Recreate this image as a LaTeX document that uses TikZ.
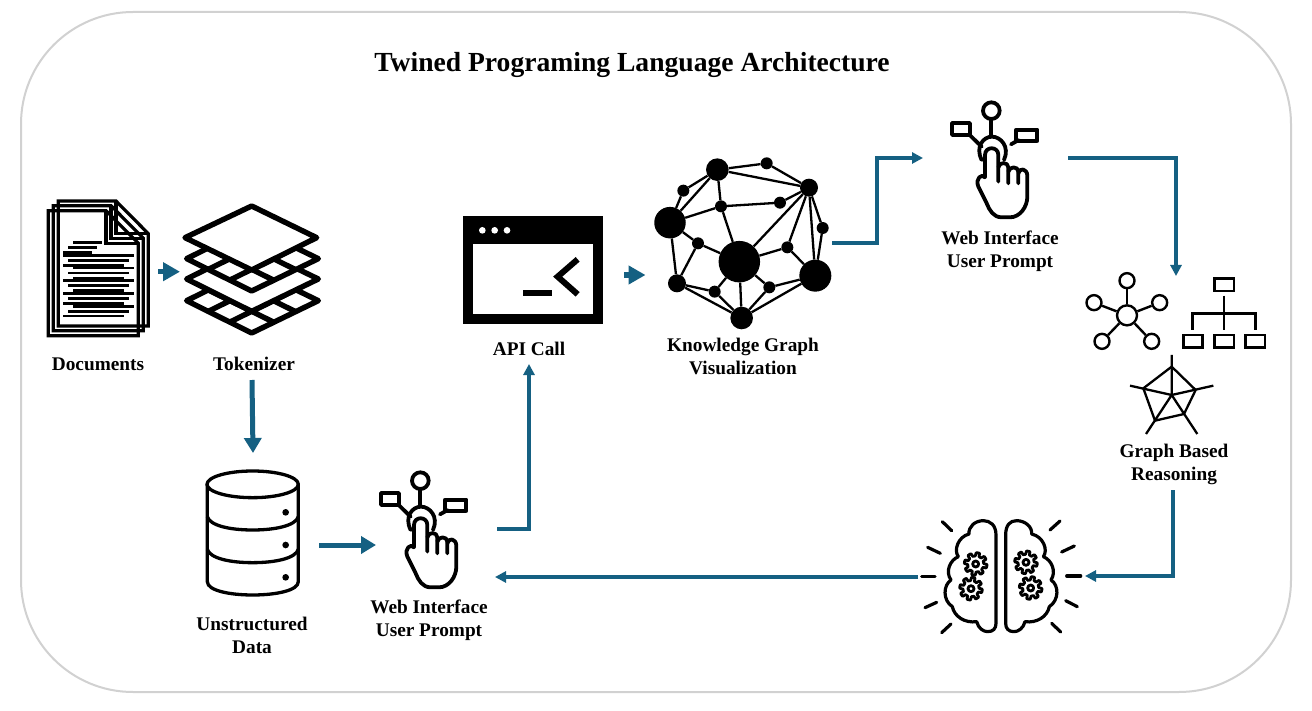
\documentclass[tikz,border=0pt]{standalone}
\usepackage{fontspec}
\setmainfont{Liberation Serif}
\usetikzlibrary{arrows.meta}
\definecolor{flow}{HTML}{156082}
\tikzset{
  zoomed/.style 2 args={shift={(#1,#2)},x=0.33333pt,y=-0.33333pt},
  lbl/.style={font=\fontsize{19.3}{23}\selectfont\bfseries,align=center,text=black,inner sep=0},
  flowline/.style={draw=flow,line width=#1,line join=miter},
  kgdot/.style={circle,fill=black,inner sep=0,minimum size=#1},
  ink/.style={draw=black,line width=#1,line cap=round,line join=round},
  tipS/.style={-{Triangle[length=11pt,width=11pt]}},
  tipM/.style={-{Triangle[length=15pt,width=17pt]}},
  tipB/.style={-{Triangle[length=17pt,width=18pt]}},
}
\newcommand{\prompticon}[2]{%
\begin{scope}[zoomed={#1}{#2}]
  \draw[ink=3.8pt] (184,62) circle[radius=25];
  \draw[ink=3.8pt] (184,90) -- (184,138);
  \draw[ink=3.8pt] (155,210) .. controls (135,170) and (160,140) .. (186,140) .. controls (212,140) and (240,170) .. (222,210);
  \draw[ink=3.8pt] (66,99) rectangle (120,135);
  \draw[ink=3.8pt] (120,136) -- (155,170);
  \draw[ink=3.8pt] (258,119) rectangle (322,152);
  \draw[ink=3.8pt] (243,163) -- (266,150);
  \draw[ink=3.8pt] (165,262) -- (165,195) .. controls (165,168) and (205,168) .. (205,195) -- (205,275);
  \draw[ink=3.8pt] (205,232) .. controls (208,214) and (235,216) .. (235,232) -- (235,280);
  \draw[ink=3.8pt] (235,245) .. controls (238,228) and (265,228) .. (265,245) -- (265,280);
  \draw[ink=3.8pt] (265,250) .. controls (268,232) and (292,235) .. (292,258) -- (292,320) .. controls (292,350) and (270,382) .. (240,382) -- (215,382) .. controls (190,382) and (178,360) .. (170,340) -- (145,290) .. controls (135,265) and (155,250) .. (165,262);
\end{scope}}
\newcommand{\gearat}[2]{%
  \draw[ink=2.8pt,shift={(#1,#2)}] plot[domain=0:360,samples=121,variable=\t]
    ({(29+5*max(-1,min(1,4*sin(8*\t))))*cos(\t)},{(29+5*max(-1,min(1,4*sin(8*\t))))*sin(\t)}) -- cycle;
  \draw[ink=2.8pt] (#1,#2) circle[radius=9];}
\newcommand{\layergrid}[1]{%
  \begin{scope}[yshift=#1]
  \draw[ink=5.4pt,fill=white] (470,236) -- (665,139) -- (865,236) -- (665,333) -- cycle;
  \draw[ink=5.4pt] (535,268) -- (730,172) (600,300) -- (795,204) (795,268) -- (600,172) (730,300) -- (535,204);
  \end{scope}}
\begin{document}
\begin{tikzpicture}[x=1pt,y=-1pt]
\useasboundingbox (0,0) rectangle (1312,711);
\fill[white] (0,0) rectangle (1312,711);
\draw[draw=black!18,line width=2pt,rounded corners=112pt] (21,12) rectangle (1291,692);
\node[font=\fontsize{27.6}{32}\selectfont\bfseries,inner sep=0] (title) at (632,65) {Twined Programing Language Architecture};

% documents and tokenizer
\begin{scope}[zoomed={30}{180}]
  \foreach \dx/\dy in {30/-29,15/-15,0/0}{
    \begin{scope}[shift={(\dx,\dy)}]
    \draw[draw=black,line width=3.2pt,line join=miter] (55,92) -- (228,92) -- (325,190) -- (325,467) -- (55,467) -- cycle;
    \draw[draw=black,line width=3.2pt,line join=miter] (228,92) -- (228,190) -- (325,190);
    \end{scope}}
  \foreach \yy/\xa/\xb in {187/130/215,202/115/200,217/100/185,226/100/312,241/115/297,256/100/282,264/130/312,279/115/297,294/130/282,302/100/312,317/115/297,332/130/282,340/100/312,355/115/297,370/100/282,379/130/312,394/115/297,408/100/282}
    \draw[draw=black,line width=2.8pt] (\xa,\yy) -- (\xb,\yy);
  \layergrid{-42pt}
  \draw[ink=5.4pt,fill=white] (470,297) -- (665,200) -- (865,297) -- (665,394) -- cycle;
  \layergrid{0pt}
  \draw[ink=5.4pt,fill=white] (465,173) -- (665,78) -- (860,173) -- (665,270) -- cycle;
\end{scope}

% database
\begin{scope}[zoomed={190}{460}]
  \draw[ink=3.3pt] (52,73) -- (52,365) .. controls (52,392) and (120,405) .. (188,405) .. controls (256,405) and (325,392) .. (325,365) -- (325,73);
  \draw[ink=3.3pt] (188,73) ellipse[x radius=137,y radius=40];
  \draw[ink=3.3pt] (52,170) .. controls (60,197) and (120,210) .. (188,210) .. controls (256,210) and (317,197) .. (325,170);
  \draw[ink=3.3pt] (52,268) .. controls (60,295) and (120,308) .. (188,308) .. controls (256,308) and (317,295) .. (325,268);
  \foreach \yy in {157,255,352} \fill[black] (287,\yy) circle[radius=10];
\end{scope}

% API window
\begin{scope}[zoomed={455}{205}]
  \fill[black] (24,33) rectangle (445,358);
  \fill[white] (55,118) rectangle (415,328);
  \foreach \xx in {82,119,156} \fill[white] (\xx,76) circle[radius=10];
  \fill[black] (205,254) rectangle (290,274);
  \draw[draw=black,line width=6pt,line join=miter] (368,163) -- (308,215) -- (368,268);
\end{scope}

% knowledge graph
\begin{scope}[zoomed={640}{140}]
  \node[kgdot=22.6pt] (ka) at (232,89) {};
  \node[kgdot=12pt] (kb) at (380,70) {};
  \node[kgdot=18pt] (kc) at (507,143) {};
  \node[kgdot=12pt] (kd) at (130,152) {};
  \node[kgdot=12pt] (ke) at (243,199) {};
  \node[kgdot=12pt] (kf) at (420,188) {};
  \node[kgdot=31.5pt] (kg) at (90,248) {};
  \node[kgdot=12pt] (kh) at (548,264) {};
  \node[kgdot=12pt] (ki) at (174,310) {};
  \node[kgdot=12pt] (kj) at (442,322) {};
  \node[kgdot=41.5pt] (kk) at (298,365) {};
  \node[kgdot=32pt] (kl) at (526,407) {};
  \node[kgdot=18pt] (km) at (111,430) {};
  \node[kgdot=12pt] (kn) at (224,455) {};
  \node[kgdot=12pt] (ko) at (388,442) {};
  \node[kgdot=22.6pt] (kp) at (305,534) {};
  \foreach \ea/\eb in {ka/kb,kb/kc,ka/kc,ka/kd,ka/kg,kd/kg,ka/ke,ke/kg,ke/kf,kf/kc,ke/kk,kc/kk,kc/kj,kc/kl,kc/kh,kh/kl,kg/ki,kg/km,ki/km,ki/kk,kk/kj,kj/kl,kk/kn,kk/ko,kk/kp,kn/km,kn/kp,km/kp,ko/kp,ko/kl,kl/kp}
    \draw[draw=black,line width=2.3pt] (\ea) -- (\eb);
\end{scope}

% prompts
\prompticon{930}{90}
\prompticon{359}{460}

% network, org chart, radar
\begin{scope}[zoomed={1080}{265}]
  \tikzset{ringn/.style={circle,draw=black,line width=2.4pt,fill=white,inner sep=0,minimum size=#1}}
  \node[ringn=20pt] (nc) at (141,151) {};
  \node[ringn=15pt] (n1) at (141,47) {};
  \node[ringn=15pt] (n2) at (42,113) {};
  \node[ringn=15pt] (n3) at (239,113) {};
  \node[ringn=15pt] (n4) at (66,229) {};
  \node[ringn=15pt] (n5) at (215,229) {};
  \foreach \nn in {n1,n2,n3,n4,n5} \draw[draw=black,line width=2.4pt] (nc) -- (\nn);
  \draw[draw=black,line width=2.4pt,fill=white] (403,40) rectangle (462,78);
  \draw[draw=black,line width=2.4pt,fill=white] (310,210) rectangle (367,247);
  \draw[draw=black,line width=2.4pt,fill=white] (403,210) rectangle (462,247);
  \draw[draw=black,line width=2.4pt,fill=white] (497,210) rectangle (555,247);
  \draw[draw=black,line width=2.4pt] (432,92) -- (432,195);
  \draw[draw=black,line width=2.4pt] (338,195) -- (338,145) -- (526,145) -- (526,195);
  \coordinate (rc) at (275,390);
  \draw[draw=black,line width=2.3pt,line join=round] (275,305) -- (347,375) -- (312,447) -- (225,467) -- (190,370) -- cycle;
  \draw[draw=black,line width=2.3pt] (275,270) -- (rc) (400,362) -- (rc) (352,507) -- (rc) (198,507) -- (rc) (150,362) -- (rc);
\end{scope}

% brain
\begin{scope}[zoomed={915}{510}]
  \draw[ink=3.2pt] (243,340) -- (243,75) .. controls (243,45) and (225,32) .. (205,32) .. controls (180,32) and (160,50) .. (162,72) .. controls (130,80) and (115,120) .. (130,140) .. controls (105,150) and (90,185) .. (108,210) .. controls (85,225) and (82,270) .. (112,290) .. controls (118,320) and (150,340) .. (185,335) .. controls (190,355) and (205,365) .. (218,365) .. controls (235,365) and (243,355) .. (243,340) -- cycle;
  \draw[ink=3.2pt] (272,340) -- (272,75) .. controls (272,45) and (285,32) .. (305,32) .. controls (330,32) and (352,50) .. (350,72) .. controls (385,80) and (400,120) .. (385,140) .. controls (410,150) and (425,185) .. (408,210) .. controls (432,225) and (433,270) .. (403,290) .. controls (397,320) and (365,340) .. (330,335) .. controls (325,355) and (310,365) .. (297,365) .. controls (280,365) and (272,355) .. (272,340) -- cycle;
  \gearat{182}{162}\gearat{168}{236}\gearat{333}{157}\gearat{347}{234}
  \foreach \xa/\ya/\xb/\yb in {82/35/110/62,38/112/76/130,20/200/60/200,30/293/65/277,80/368/108/342,435/33/405/60,478/108/440/126,455/198/497/198,452/272/487/290,410/340/437/366}
    \draw[ink=3.2pt] (\xa,\ya) -- (\xb,\yb);
\end{scope}

% labels
\node[lbl] (ldocs) at (98,364.5) {Documents};
\node[lbl] (ltok) at (254,363.5) {Tokenizer};
\node[lbl] (lapi) at (529,348.5) {API Call};
\node[lbl] (lkg) at (743,356.5) {Knowledge Graph\\Visualization};
\node[lbl] (lweb) at (1000,251) {Web Interface\\User Prompt};
\node[lbl] (lgbr) at (1174,464) {Graph Based\\Reasoning};
\node[lbl] (ldata) at (252,635.5) {Unstructured\\Data};
\node[lbl] (lweb2) at (429,620) {Web Interface\\User Prompt};

% connector end points
\coordinate (docsout) at (158,271.7);
\coordinate (tokin) at (180,271.7);
\coordinate (apiout) at (624,275);
\coordinate (kgin) at (645.5,275);
\coordinate (tokout) at (252,380);
\coordinate (datain) at (253,453);
\coordinate (dataout) at (319,545);
\coordinate (promptin) at (376,545);
\coordinate (promptout) at (497,529);
\coordinate (apiin) at (529,364);
\coordinate (kgout) at (832,243);
\coordinate (webin) at (923,158);
\coordinate (webout) at (1068,158);
\coordinate (gbrin) at (1176,276);
\coordinate (gbrout) at (1173,490);
\coordinate (brainin) at (1085,576);
\coordinate (brainout) at (918,577);
\coordinate (promptback) at (495,577);

\draw[flowline=5.5pt,tipB] (docsout) -- (tokin);
\draw[flowline=5.5pt,tipB] (apiout) -- (kgin);
\draw[flowline=5pt,tipM] (tokout) -- (datain);
\draw[flowline=5pt,tipM] (dataout) -- (promptin);
\draw[flowline=3.6pt,tipS] (promptout) -| (apiin);
\draw[flowline=3.6pt,tipS] (kgout) -- (877,243) |- (webin);
\draw[flowline=3.6pt,tipS] (webout) -| (gbrin);
\draw[flowline=3.6pt,tipS] (gbrout) |- (brainin);
\draw[flowline=3.6pt,tipS] (brainout) -- (promptback);
\end{tikzpicture}
\end{document}
